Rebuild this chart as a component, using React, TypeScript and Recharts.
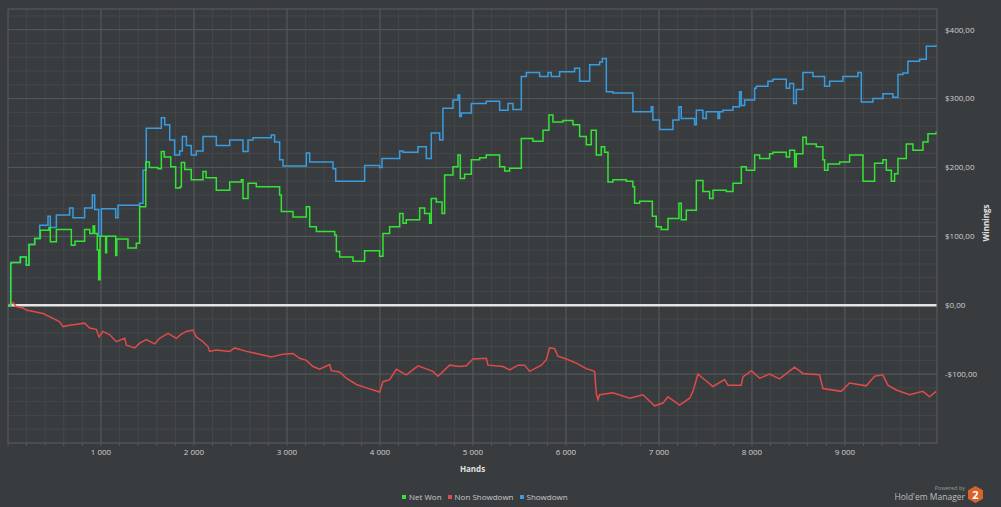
import React from "react";
import { CartesianGrid, Legend, Line, LineChart, ReferenceLine, XAxis, YAxis } from "recharts";

const FONT = '"Open Sans", sans-serif';
const BG = "#393c3f";
const MINOR = "#44474a";
const MAJOR = "#56595c";

// hands / winnings
const netWonHands = [0, 29, 36, 133, 197, 226, 287, 348, 441, 455, 520, 681, 720, 824, 880, 915, 932, 960, 975, 990, 1050, 1060, 1158, 1170, 1290, 1380, 1416, 1481, 1520, 1613, 1649, 1680, 1750, 1803, 1850, 1864, 1900, 1971, 2097, 2130, 2240, 2384, 2509, 2527, 2581, 2670, 2921, 2939, 3065, 3208, 3244, 3316, 3513, 3531, 3567, 3710, 3835, 3996, 4032, 4104, 4212, 4248, 4283, 4427, 4480, 4534, 4552, 4606, 4667, 4695, 4785, 4839, 4864, 4910, 4982, 5072, 5143, 5287, 5341, 5394, 5520, 5645, 5753, 5817, 5860, 5968, 6075, 6147, 6219, 6272, 6326, 6380, 6416, 6452, 6505, 6649, 6720, 6738, 6792, 6929, 6971, 7025, 7097, 7215, 7240, 7294, 7402, 7473, 7545, 7581, 7724, 7796, 7886, 7939, 8029, 8083, 8190, 8226, 8369, 8405, 8459, 8477, 8548, 8584, 8692, 8763, 8781, 8817, 8943, 9050, 9194, 9319, 9409, 9445, 9499, 9534, 9570, 9660, 9731, 9839, 9893, 9982];
const netWonValues = [0, 61, 62, 70, 58, 88, 97, 109, 113, 92, 110, 87, 93, 110, 104, 115, 104, 80, 37, 100, 76, 100, 72, 96, 83, 90, 143, 208, 200, 198, 223, 215, 201, 170, 172, 207, 197, 182, 194, 185, 167, 179, 182, 155, 177, 172, 160, 136, 128, 143, 114, 107, 102, 78, 70, 64, 79, 71, 104, 114, 133, 119, 124, 141, 133, 119, 155, 150, 133, 189, 201, 218, 184, 190, 211, 214, 218, 201, 195, 199, 242, 238, 254, 276, 266, 268, 262, 245, 233, 254, 218, 230, 222, 179, 182, 180, 172, 148, 151, 129, 114, 110, 126, 148, 124, 138, 181, 165, 155, 167, 165, 177, 201, 196, 218, 213, 220, 222, 215, 225, 201, 220, 244, 234, 230, 211, 196, 205, 208, 218, 180, 206, 211, 196, 180, 191, 213, 234, 225, 237, 249, 252];

const showdownHands = [0, 29, 36, 133, 197, 226, 287, 341, 430, 455, 520, 663, 699, 824, 907, 932, 975, 1004, 1158, 1183, 1416, 1452, 1487, 1649, 1685, 1739, 1792, 1846, 1875, 1918, 1971, 2025, 2097, 2240, 2384, 2527, 2581, 2634, 2832, 2867, 2921, 2957, 3208, 3244, 3495, 3524, 3835, 3996, 4022, 4212, 4248, 4409, 4498, 4552, 4642, 4677, 4785, 4839, 4857, 4875, 4982, 5143, 5287, 5377, 5430, 5520, 5574, 5717, 5807, 5842, 5932, 6093, 6147, 6255, 6362, 6391, 6434, 6505, 6720, 6917, 6935, 7007, 7150, 7215, 7240, 7383, 7402, 7473, 7509, 7634, 7652, 7688, 7796, 7867, 7885, 7921, 8029, 8047, 8172, 8226, 8369, 8405, 8448, 8477, 8548, 8656, 8781, 8835, 8978, 9140, 9176, 9301, 9409, 9516, 9570, 9624, 9677, 9803, 9875, 9982];
const showdownValues = [0, 61, 62, 70, 58, 88, 97, 116, 129, 113, 131, 141, 127, 141, 160, 139, 100, 140, 127, 145, 148, 196, 257, 272, 262, 240, 218, 224, 245, 232, 218, 224, 245, 232, 240, 223, 240, 243, 247, 237, 211, 202, 221, 208, 198, 180, 203, 200, 213, 224, 222, 230, 213, 250, 240, 286, 298, 305, 274, 279, 293, 296, 283, 293, 284, 332, 338, 332, 338, 332, 339, 344, 325, 349, 353, 358, 310, 308, 281, 288, 269, 255, 269, 288, 271, 262, 283, 271, 281, 271, 281, 283, 288, 310, 290, 298, 315, 318, 325, 328, 315, 322, 293, 313, 338, 332, 318, 325, 332, 338, 295, 300, 307, 302, 335, 337, 354, 357, 376, 378];

const nonShowdownHands = [0, 54, 90, 161, 197, 376, 484, 556, 591, 663, 824, 878, 950, 979, 1022, 1094, 1165, 1255, 1273, 1362, 1416, 1488, 1577, 1631, 1721, 1810, 1864, 1918, 1989, 2025, 2097, 2151, 2168, 2240, 2384, 2437, 2563, 2670, 2832, 2957, 3065, 3136, 3208, 3280, 3351, 3459, 3477, 3566, 3638, 3746, 3853, 3996, 4032, 4104, 4176, 4283, 4409, 4570, 4624, 4749, 4857, 4928, 5000, 5144, 5161, 5323, 5395, 5484, 5556, 5609, 5735, 5789, 5824, 5878, 5914, 6004, 6111, 6219, 6308, 6326, 6344, 6362, 6505, 6685, 6828, 6953, 7043, 7097, 7222, 7330, 7366, 7419, 7473, 7581, 7706, 7742, 7885, 7903, 7993, 8083, 8190, 8297, 8458, 8548, 8727, 8763, 8960, 9049, 9229, 9319, 9407, 9462, 9552, 9694, 9838, 9910, 9981];
const nonShowdownValues = [0, 4, -2, -4, -7, -12, -19, -24, -31, -29, -26, -33, -35, -46, -38, -43, -53, -48, -58, -62, -55, -50, -56, -48, -41, -48, -42, -38, -36, -46, -53, -60, -67, -65, -67, -62, -67, -70, -75, -71, -70, -77, -80, -89, -93, -86, -95, -97, -106, -115, -120, -126, -111, -108, -93, -101, -88, -96, -103, -87, -89, -88, -78, -77, -87, -89, -94, -87, -87, -96, -87, -79, -62, -63, -74, -78, -84, -92, -96, -128, -137, -130, -127, -135, -130, -146, -142, -133, -145, -135, -125, -100, -106, -118, -108, -116, -116, -104, -95, -106, -100, -107, -90, -99, -101, -121, -125, -113, -117, -103, -101, -116, -123, -130, -125, -133, -125];

const majorX = [1000, 2000, 3000, 4000, 5000, 6000, 7000, 8000, 9000];
const majorY = [-100, 100, 200, 300, 400];
const yLabels = [-100, 0, 100, 200, 300, 400];
const xTicks = Array.from({ length: 50 }, (_, i) => i * 200);
const yTicks = Array.from({ length: 32 }, (_, i) => -200 + i * 20);

const toPoints = (hands: number[], values: number[]) => hands.map((h, i) => ({ h, v: values[i] }));
const netWon = toPoints(netWonHands, netWonValues);
const showdown = toPoints(showdownHands, showdownValues);
const nonShowdown = toPoints(nonShowdownHands, nonShowdownValues);

const fmtHands = (v: number) => (majorX.includes(v) ? `${v / 1000} 000` : "");
const fmtMoney = (v: number) => {
  if (!yLabels.includes(v)) return "";
  return v < 0 ? `-$${-v},00` : `$${v},00`;
};

const renderLegend = (props: any) => (
  <div style={{ display: "flex", alignItems: "center", fontFamily: FONT, fontSize: 8, color: "#c9c9c9" }}>
    {(props.payload || []).map((p: any) => (
      <span key={p.value} style={{ display: "flex", alignItems: "center", marginRight: 6 }}>
        <span style={{ width: 4, height: 4, background: p.color, marginRight: 3 }} />
        {p.value}
      </span>
    ))}
  </div>
);

const Logo = () => (
  <div style={{ position: "absolute", right: 6, bottom: 2, width: 100, height: 22 }}>
    <svg width={100} height={22}>
      <text x={70} y={7} textAnchor="end" fontFamily={FONT} fontSize={5.5} fill="#9a9a9a">Powered by</text>
      <text x={70} y={17} textAnchor="end" fontFamily={FONT} fontSize={8.5} fill="#bdbdbd">Hold'em Manager</text>
      <polygon points="80.5,3 88,7.25 88,15.75 80.5,20 73,15.75 73,7.25" fill="#d8642a" />
      <text x={80.5} y={15.5} textAnchor="middle" fontFamily={FONT} fontWeight="bold" fontSize={11} fill="#ffffff">2</text>
    </svg>
  </div>
);

const App = () => (
  <div style={{ position: "absolute", left: 0, top: 0, width: 1001, height: 507, background: BG, overflow: "hidden" }}>
    <LineChart width={1001} height={507} margin={{ top: 9, right: 8, left: 8, bottom: 24 }}>
      <CartesianGrid stroke={MINOR} strokeWidth={1} />
      {majorX.map((x) => (
        <ReferenceLine key={`mx${x}`} x={x} stroke={MAJOR} strokeWidth={1} />
      ))}
      {majorY.map((y) => (
        <ReferenceLine key={`my${y}`} y={y} stroke={MAJOR} strokeWidth={1} />
      ))}
      <ReferenceLine x={0} stroke={MAJOR} />
      <ReferenceLine y={430} stroke={MAJOR} />
      <XAxis
        type="number"
        dataKey="h"
        domain={[0, 9990]}
        allowDataOverflow
        ticks={xTicks}
        interval={0}
        tickFormatter={fmtHands}
        height={40}
        tickSize={3}
        tickMargin={3}
        stroke={MAJOR}
        tick={{ fill: "#cfcfcf", fontSize: 8, fontFamily: FONT }}
        label={{
          content: (p: any) => (
            <text x={p.viewBox.x + p.viewBox.width / 2} y={472} textAnchor="middle" fontFamily={FONT} fontSize={8} fontWeight="bold" fill="#e0e0e0">
              Hands
            </text>
          ),
        }}
      />
      <YAxis
        orientation="right"
        type="number"
        domain={[-200, 430]}
        allowDataOverflow
        ticks={yTicks}
        interval={0}
        tickFormatter={fmtMoney}
        width={56}
        tickLine={false}
        tickSize={0}
        tickMargin={8}
        stroke={MAJOR}
        tick={{ fill: "#cfcfcf", fontSize: 8, fontFamily: FONT }}
        label={{
          content: () => (
            <text x={989} y={223} transform="rotate(-90 989 223)" textAnchor="middle" fontFamily={FONT} fontSize={8} fontWeight="bold" fill="#e0e0e0">
              Winnings
            </text>
          ),
        }}
      />
      <ReferenceLine y={0} stroke="#e4e4e4" strokeWidth={2.5} />
      <Line data={nonShowdown} dataKey="v" name="Non Showdown" type="linear" stroke="#e04a4a" strokeWidth={1.5} dot={false} isAnimationActive={false} />
      <Line data={showdown} dataKey="v" name="Showdown" type="stepAfter" stroke="#3a9ce0" strokeWidth={1.5} dot={false} isAnimationActive={false} />
      <Line data={netWon} dataKey="v" name="Net Won" type="stepAfter" stroke="#34e434" strokeWidth={1.5} dot={false} isAnimationActive={false} />
      <Legend
        layout="horizontal"
        verticalAlign="middle"
        align="center"
        payload={[
          { value: "Net Won", type: "square", color: "#34e434" },
          { value: "Non Showdown", type: "square", color: "#e04a4a" },
          { value: "Showdown", type: "square", color: "#3a9ce0" },
        ]}
        content={renderLegend}
        wrapperStyle={{ left: 402, top: 491, width: 220, height: 12 }}
      />
    </LineChart>
    <Logo />
  </div>
);

export default App;
